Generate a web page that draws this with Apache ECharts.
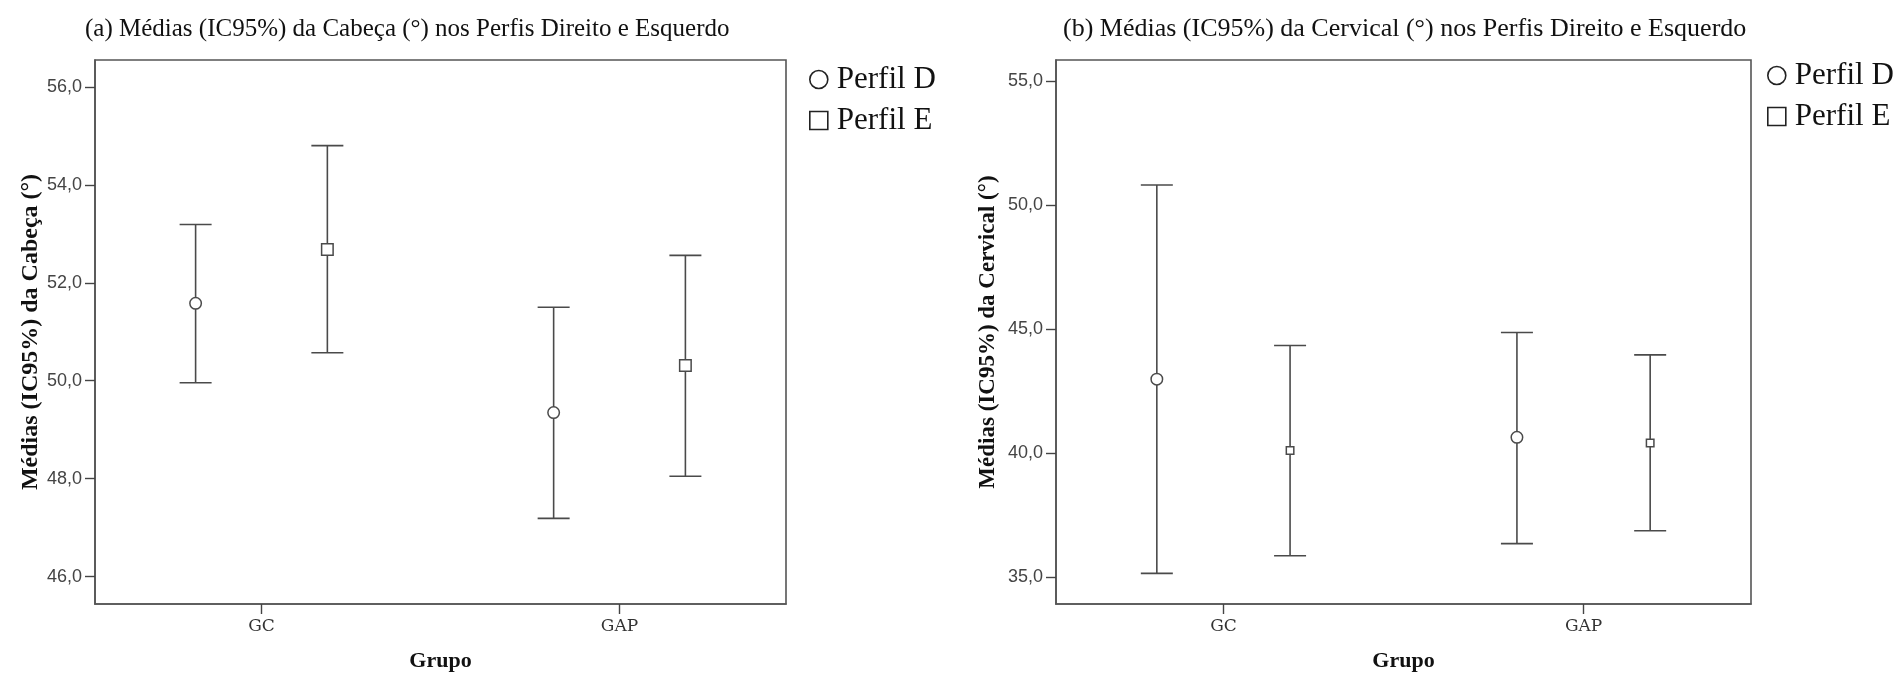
<!DOCTYPE html>
<html><head><meta charset="utf-8">
<script src="https://cdn.jsdelivr.net/npm/echarts@6/dist/echarts.min.js"></script>
<style>html,body{margin:0;padding:0;background:#fff}#c{width:1897px;height:677px}</style>
</head><body><div id="c"></div>
<script>
// ---- data ----
const groups = ['GC', 'GAP'];
const seriesNames = ['Perfil D', 'Perfil E'];
const ticksCabeca = [46, 48, 50, 52, 54, 56];
const ticksCervical = [35, 40, 45, 50, 55];

const cabecaD_low  = [49.96, 47.19];
const cabecaD_mean = [51.58, 49.35];
const cabecaD_high = [53.19, 51.50];
const cabecaE_low  = [50.57, 48.05];
const cabecaE_mean = [52.68, 50.31];
const cabecaE_high = [54.80, 52.56];

const cervicalD_low  = [35.14, 36.34];
const cervicalD_mean = [42.98, 40.63];
const cervicalD_high = [50.82, 44.86];
const cervicalE_low  = [35.85, 36.86];
const cervicalE_mean = [40.10, 40.40];
const cervicalE_high = [44.34, 43.96];

const titleA = '(a) Médias (IC95%) da Cabeça (°) nos Perfis Direito e Esquerdo';
const titleB = '(b) Médias (IC95%) da Cervical (°) nos Perfis Direito e Esquerdo';
const yNameA = 'Médias (IC95%) da Cabeça (°)';
const yNameB = 'Médias (IC95%) da Cervical (°)';
const xName = 'Grupo';

// ---- styling ----
const INK = '#4a4a4a';
const SERIF = '"Liberation Serif", "Times New Roman", serif';

function errSeries(name, idx, low, mean, high, shape, msize, offFrac) {
  return {
    type: 'custom', name: name, xAxisIndex: idx, yAxisIndex: idx,
    data: groups.map((g, i) => [i, low[i], mean[i], high[i]]),
    encode: { x: 0, y: [1, 2, 3] },
    silent: true,
    renderItem: function (params, api) {
      const x = api.value(0);
      const pH = api.coord([x, api.value(3)]);
      const pL = api.coord([x, api.value(1)]);
      const pM = api.coord([x, api.value(2)]);
      const unit = api.size([1, 0])[0];
      const cx = pH[0] + offFrac * unit;
      const hw = 16;
      const st = { stroke: INK, lineWidth: 1.6 };
      const kids = [
        { type: 'line', shape: { x1: cx, y1: pH[1], x2: cx, y2: pL[1] }, style: st },
        { type: 'line', shape: { x1: cx - hw, y1: pH[1], x2: cx + hw, y2: pH[1] }, style: st },
        { type: 'line', shape: { x1: cx - hw, y1: pL[1], x2: cx + hw, y2: pL[1] }, style: st }
      ];
      if (shape === 'circle') {
        kids.push({ type: 'circle', shape: { cx: cx, cy: pM[1], r: msize / 2 },
          style: { fill: '#fff', stroke: INK, lineWidth: 1.5 } });
      } else {
        kids.push({ type: 'rect', shape: { x: cx - msize / 2, y: pM[1] - msize / 2, width: msize, height: msize },
          style: { fill: '#fff', stroke: INK, lineWidth: 1.5 } });
      }
      return { type: 'group', children: kids };
    }
  };
}

function yAxisCfg(idx, min, max, ticks, name, gap, nameSize) {
  return {
    type: 'value', gridIndex: idx, min: min, max: max,
    name: name, nameLocation: 'middle', nameGap: gap, nameRotate: 90,
    nameTextStyle: { fontFamily: SERIF, fontSize: nameSize, fontWeight: 'bold', color: '#111' },
    axisLine: { show: true, onZero: false, lineStyle: { color: '#555', width: 1.6 } },
    axisTick: { show: true, length: 10, customValues: ticks, lineStyle: { color: '#444', width: 1.4 } },
    axisLabel: { customValues: ticks, margin: 13, fontFamily: '"Liberation Sans", Arial, sans-serif',
      fontSize: 18, color: '#444', formatter: v => v.toFixed(1).replace('.', ',') },
    splitLine: { show: false }
  };
}

function xAxisCfg(idx) {
  const vals = groups.map((g, i) => i);
  return {
    type: 'value', gridIndex: idx, min: -0.465, max: 1.465,
    name: xName, nameLocation: 'middle', nameGap: 46,
    nameTextStyle: { fontFamily: SERIF, fontSize: 22, fontWeight: 'bold', color: '#111' },
    axisLine: { show: true, onZero: false, lineStyle: { color: '#555', width: 1.6 } },
    axisTick: { show: true, length: 10, customValues: vals, lineStyle: { color: '#444', width: 1.4 } },
    axisLabel: { customValues: vals, margin: 14, fontFamily: '"DejaVu Serif", serif', fontSize: 17,
      color: '#333', formatter: v => groups[Math.round(v)] },
    splitLine: { show: false }
  };
}

function legendCfg(left, top) {
  return {
    orient: 'vertical', left: left, top: top, itemGap: 10, itemWidth: 18, itemHeight: 18,
    selectedMode: false,
    textStyle: { fontFamily: SERIF, fontSize: 31, color: '#111', padding: [0, 0, 0, 4] },
    data: [
      { name: seriesNames[0], icon: 'circle', itemStyle: { color: '#fff', borderColor: '#222', borderWidth: 1.6 } },
      { name: seriesNames[1], icon: 'rect', itemStyle: { color: '#fff', borderColor: '#222', borderWidth: 1.6 } }
    ]
  };
}

const option = {
  backgroundColor: '#fff',
  animation: false,
  title: [
    { text: titleA, left: 80, top: 12, textStyle: { fontFamily: SERIF, fontSize: 25, fontWeight: 'normal', color: '#111' } },
    { text: titleB, left: 1058, top: 11, textStyle: { fontFamily: SERIF, fontSize: 26, fontWeight: 'normal', color: '#111' } }
  ],
  legend: [legendCfg(804, 59), legendCfg(1762, 55)],
  grid: [
    { left: 95, top: 60, width: 691, height: 544, show: true, borderColor: '#555', borderWidth: 1.6, backgroundColor: '#fff' },
    { left: 1056, top: 60, width: 695, height: 544, show: true, borderColor: '#555', borderWidth: 1.6, backgroundColor: '#fff' }
  ],
  xAxis: [xAxisCfg(0), xAxisCfg(1)],
  yAxis: [
    yAxisCfg(0, 45.443, 56.547, ticksCabeca, yNameA, 50, 24),
    yAxisCfg(1, 33.902, 55.864, ticksCervical, yNameB, 56, 23)
  ],
  series: [
    errSeries(seriesNames[0], 0, cabecaD_low, cabecaD_mean, cabecaD_high, 'circle', 11.5, -0.184),
    errSeries(seriesNames[1], 0, cabecaE_low, cabecaE_mean, cabecaE_high, 'rect', 11.5, 0.184),
    errSeries(seriesNames[0], 1, cervicalD_low, cervicalD_mean, cervicalD_high, 'circle', 11.5, -0.185),
    errSeries(seriesNames[1], 1, cervicalE_low, cervicalE_mean, cervicalE_high, 'rect', 7.5, 0.185)
  ]
};
const chart = echarts.init(document.getElementById('c'), null, { renderer: 'canvas' });
chart.setOption(option);
</script></body></html>
